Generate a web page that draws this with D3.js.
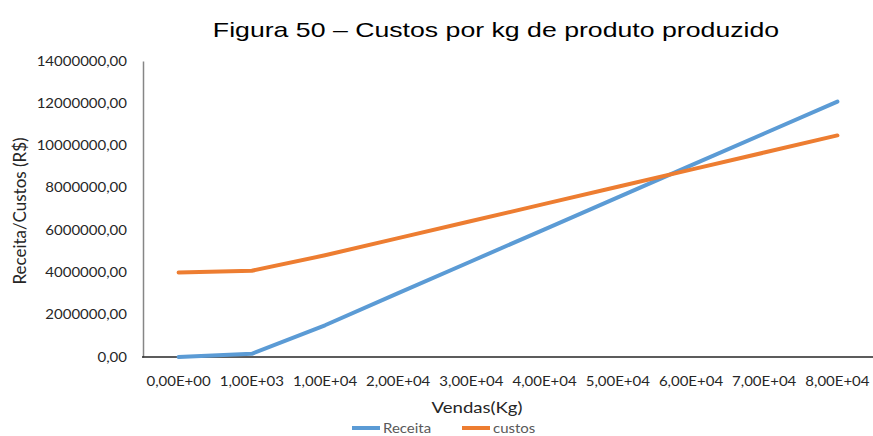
<!DOCTYPE html>
<html>
<head>
<meta charset="utf-8">
<script src="https://cdn.jsdelivr.net/npm/d3@7"></script>
<style>
  html, body { margin: 0; padding: 0; background: #fff; }
  svg { display: block; }
</style>
</head>
<body>
<svg id="chart" width="873" height="436"></svg>
<script>
// Sales volumes (kg) shown as categories along the x axis
const categories = ["0,00E+00", "1,00E+03", "1,00E+04", "2,00E+04", "3,00E+04",
                    "4,00E+04", "5,00E+04", "6,00E+04", "7,00E+04", "8,00E+04"];
// Revenue (R$) for each sales volume
const receita = [0, 150000, 1500000, 3020000, 4530000, 6040000, 7550000, 9060000, 10570000, 12080000];
// Total costs (R$) for each sales volume
const custos = [4000000, 4080000, 4810000, 5620000, 6430000, 7240000, 8050000, 8860000, 9670000, 10480000];
// Value axis tick values
const yTicks = [0, 2000000, 4000000, 6000000, 8000000, 10000000, 12000000, 14000000];

const seriesNames = ["Receita", "custos"];
const colors = ["#5B9BD5", "#ED7D31"];

const svg = d3.select("#chart");
const SX = 1.2;            // horizontal widening of label glyphs
const labelFont = "Lato, 'Open Sans', sans-serif";
const textColor = "#262626";

const x = d3.scalePoint().domain(categories).range([142, 874]).padding(0.5);
const y = d3.scaleLinear().domain([0, 14000000]).range([357, 61]);

const fmt = v => d3.format(".2f")(v).replace(".", ",");

// Title
svg.append("text")
  .attr("transform", "translate(496,37) scale(1.27,1)")
  .attr("text-anchor", "middle")
  .attr("font-family", "'Liberation Sans', Arial, sans-serif")
  .attr("font-size", 21)
  .attr("fill", "#000")
  .text("Figura 50 – Custos por kg de produto produzido");

// Y axis
const yAxis = svg.append("g")
  .attr("transform", "translate(143,0)")
  .call(d3.axisLeft(y).tickValues(yTicks).tickFormat(fmt).tickSize(0).tickPadding(16));
yAxis.select(".domain").attr("stroke", "#868686").attr("stroke-width", 1.5);
yAxis.selectAll("text")
  .attr("font-family", labelFont)
  .attr("font-size", 12.5)
  .attr("fill", textColor)
  .attr("transform", "translate(-16,0) scale(" + SX + ",1) translate(16,0)");

// X axis (group widened horizontally, tick positions compensated)
const xAxis = svg.append("g")
  .call(d3.axisBottom(x).tickSize(0).tickPadding(20));
xAxis.selectAll(".tick")
  .attr("transform", d => "translate(" + (x(d) / SX) + ",0)");
xAxis.attr("transform", "translate(0,357) scale(" + SX + ",1)");
xAxis.select(".domain")
  .attr("stroke", "#262626").attr("stroke-width", 1.5)
  .attr("d", "M142,0H874")
  .attr("transform", "scale(" + (1 / SX) + ",1)");
xAxis.selectAll("text")
  .attr("font-family", labelFont)
  .attr("font-size", 12.5)
  .attr("fill", textColor);

// Axis titles
svg.append("text")
  .attr("transform", "translate(477,413) scale(" + SX + ",1)")
  .attr("text-anchor", "middle")
  .attr("font-family", labelFont)
  .attr("font-size", 15.5)
  .attr("fill", textColor)
  .text("Vendas(Kg)");

svg.append("text")
  .attr("transform", "translate(26,211) rotate(-90)")
  .attr("text-anchor", "middle")
  .attr("font-family", labelFont)
  .attr("font-size", 17)
  .attr("fill", textColor)
  .text("Receita/Custos (R$)");

// Lines
const line = d3.line()
  .x((d, i) => x(categories[i]))
  .y(d => y(d));

[receita, custos].forEach((vals, i) => {
  svg.append("path")
    .datum(vals)
    .attr("fill", "none")
    .attr("stroke", colors[i])
    .attr("stroke-width", 4)
    .attr("stroke-linejoin", "round")
    .attr("stroke-linecap", "round")
    .attr("d", line);
});

// Legend
const legendX = [352, 462];
seriesNames.forEach((name, i) => {
  const g = svg.append("g").attr("transform", "translate(" + legendX[i] + ",428)");
  g.append("line")
    .attr("x1", 0).attr("x2", 28).attr("y1", 0).attr("y2", 0)
    .attr("stroke", colors[i]).attr("stroke-width", 4);
  g.append("text")
    .attr("transform", "translate(31,4.5) scale(" + SX + ",1)")
    .attr("font-family", labelFont)
    .attr("font-size", 12.5)
    .attr("fill", "#595959")
    .text(name);
});
</script>
</body>
</html>
